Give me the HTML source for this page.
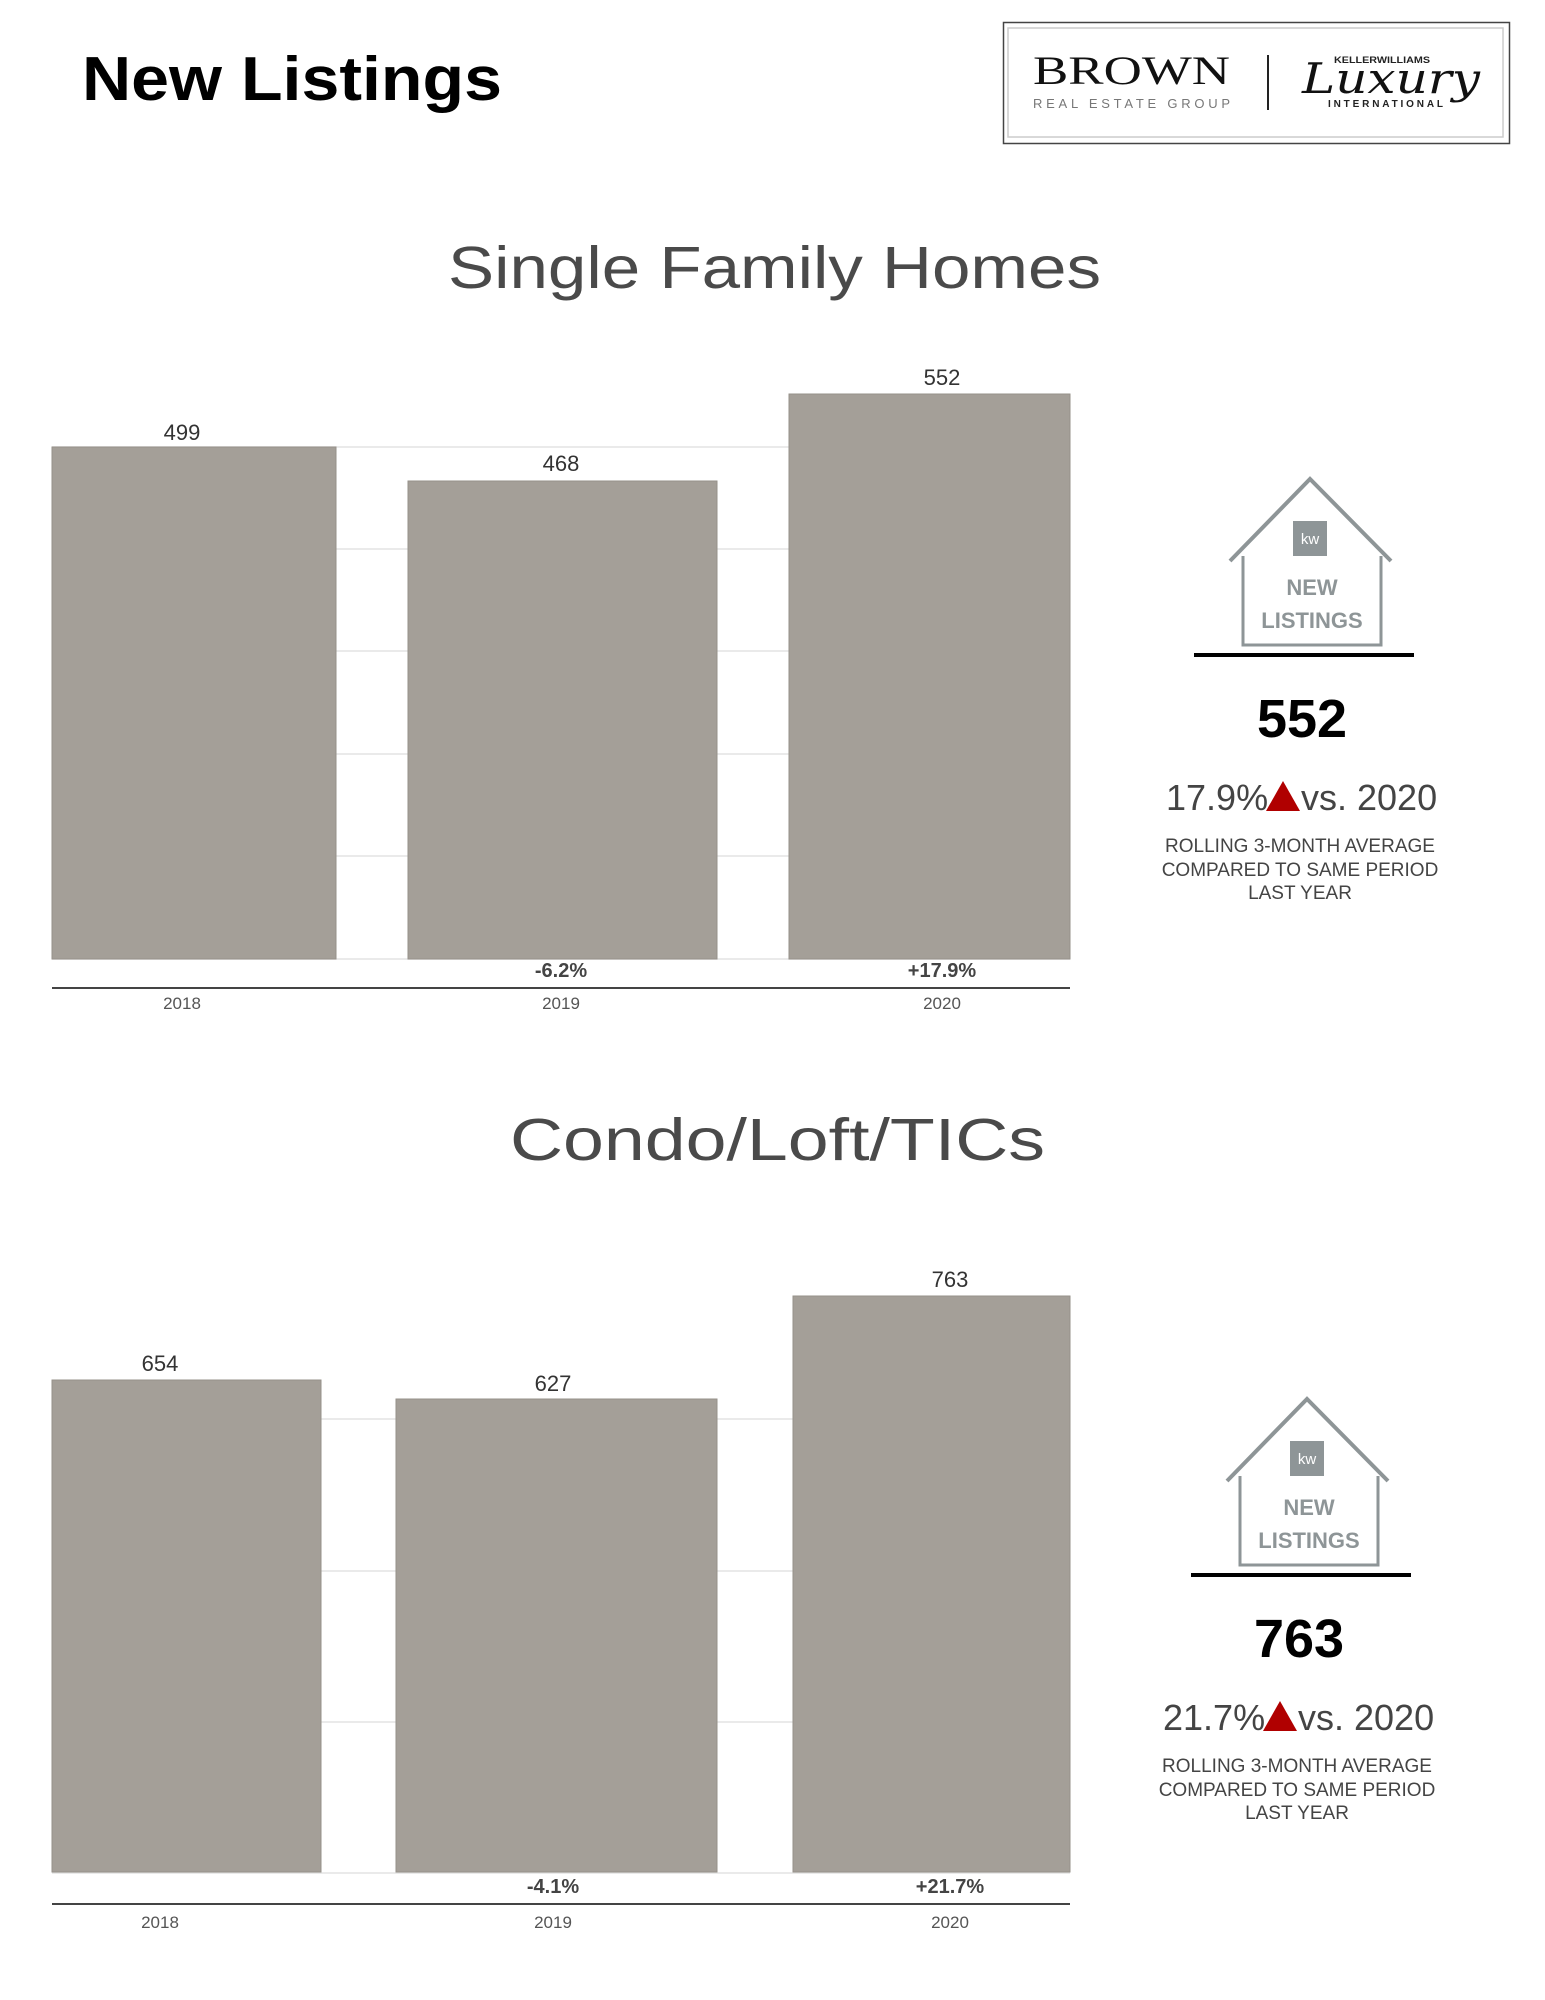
<!DOCTYPE html>
<html><head><meta charset="utf-8"><style>html,body{margin:0;padding:0;background:#fff}svg{display:block}</style></head>
<body>
<svg width="1545" height="2000" viewBox="0 0 1545 2000" xmlns="http://www.w3.org/2000/svg" font-family="Liberation Sans, sans-serif">
<rect width="1545" height="2000" fill="#fff"/>
<text x="82" y="100" font-size="62" font-weight="bold" fill="#000" textLength="420" lengthAdjust="spacingAndGlyphs">New Listings</text>
<!-- logo -->
<rect x="1003.5" y="22.5" width="506" height="121" fill="#fff" stroke="#444" stroke-width="1.5"/>
<rect x="1008" y="28" width="495" height="109" fill="none" stroke="#ccc" stroke-width="1.5"/>
<text x="1033" y="84" font-family="Liberation Serif, serif" font-size="40" fill="#111" textLength="197" lengthAdjust="spacingAndGlyphs">BROWN</text>
<text x="1033" y="108" font-size="13" fill="#777" textLength="197" lengthAdjust="spacing">REAL ESTATE GROUP</text>
<line x1="1268" y1="55" x2="1268" y2="110" stroke="#222" stroke-width="2"/>
<text x="1334" y="63" font-size="9" font-weight="bold" fill="#222" textLength="96" lengthAdjust="spacingAndGlyphs">KELLERWILLIAMS</text>
<text x="1302" y="93" font-family="DejaVu Serif, serif" font-style="italic" font-size="42" fill="#111" textLength="178" lengthAdjust="spacingAndGlyphs">Luxury</text>
<text x="1328" y="107" font-size="10" font-weight="bold" fill="#222" textLength="115" lengthAdjust="spacing">INTERNATIONAL</text>

<!-- Chart 1 -->
<text x="448" y="288" font-size="59" fill="#4a4a4a" textLength="653" lengthAdjust="spacingAndGlyphs">Single Family Homes</text>
<g stroke="#e3e3e3" stroke-width="1.5">
<line x1="52" y1="447" x2="1070" y2="447"/><line x1="52" y1="549" x2="1070" y2="549"/><line x1="52" y1="651" x2="1070" y2="651"/><line x1="52" y1="754" x2="1070" y2="754"/><line x1="52" y1="856" x2="1070" y2="856"/><line x1="52" y1="959" x2="1070" y2="959"/>
</g>
<g fill="#a49f98" stroke="#96918a" stroke-width="1">
<rect x="52" y="447" width="284" height="512"/><rect x="408" y="481" width="309" height="478"/><rect x="789" y="394" width="281" height="565"/>
</g>
<g font-size="22" fill="#333" text-anchor="middle">
<text x="182" y="440">499</text><text x="561" y="471">468</text><text x="942" y="385">552</text>
</g>
<g font-size="20" font-weight="bold" fill="#444" text-anchor="middle"><text x="561" y="977">-6.2%</text><text x="942" y="977">+17.9%</text></g>
<line x1="52" y1="988" x2="1070" y2="988" stroke="#444" stroke-width="2"/>
<g font-size="17" fill="#555" text-anchor="middle"><text x="182" y="1009">2018</text><text x="561" y="1009">2019</text><text x="942" y="1009">2020</text></g>

<!-- icon 1 -->
<g transform="translate(-6,0)">
<polyline points="1236,561 1316,479 1397,561" fill="none" stroke="#8e9597" stroke-width="4"/>
<polyline points="1249,556 1249,645 1387,645 1387,556" fill="none" stroke="#8e9597" stroke-width="3"/>
<rect x="1299" y="521" width="34" height="35" fill="#8e9597"/>
<text x="1316" y="544" font-size="15" fill="#fff" text-anchor="middle">kw</text>
<text x="1318" y="595" font-size="22" font-weight="bold" fill="#8e9597" text-anchor="middle">NEW</text>
<text x="1318" y="628" font-size="22" font-weight="bold" fill="#8e9597" text-anchor="middle">LISTINGS</text>
<rect x="1200" y="653" width="220" height="4" fill="#000"/>
<text x="1308" y="737" font-size="54" font-weight="bold" fill="#000" text-anchor="middle">552</text>
<text x="1172" y="810" font-size="36" fill="#444">17.9%</text>
<polygon points="1272,811 1289,781 1306,811" fill="#b00000"/>
<text x="1307" y="810" font-size="36" fill="#444">vs. 2020</text>
<g font-size="19" fill="#444" text-anchor="middle"><text x="1306" y="852">ROLLING 3-MONTH AVERAGE</text><text x="1306" y="876">COMPARED TO SAME PERIOD</text><text x="1306" y="899">LAST YEAR</text></g>
</g>

<!-- Chart 2 -->
<text x="510" y="1160" font-size="59" fill="#4a4a4a" textLength="535" lengthAdjust="spacingAndGlyphs">Condo/Loft/TICs</text>
<g stroke="#e3e3e3" stroke-width="1.5">
<line x1="52" y1="1419" x2="1070" y2="1419"/><line x1="52" y1="1571" x2="1070" y2="1571"/><line x1="52" y1="1722" x2="1070" y2="1722"/><line x1="52" y1="1873" x2="1070" y2="1873"/>
</g>
<g fill="#a49f98" stroke="#96918a" stroke-width="1">
<rect x="52" y="1380" width="269" height="492"/><rect x="396" y="1399" width="321" height="473"/><rect x="793" y="1296" width="277" height="576"/>
</g>
<g font-size="22" fill="#333" text-anchor="middle">
<text x="160" y="1371">654</text><text x="553" y="1391">627</text><text x="950" y="1287">763</text>
</g>
<g font-size="20" font-weight="bold" fill="#444" text-anchor="middle"><text x="553" y="1893">-4.1%</text><text x="950" y="1893">+21.7%</text></g>
<line x1="52" y1="1904" x2="1070" y2="1904" stroke="#444" stroke-width="2"/>
<g font-size="17" fill="#555" text-anchor="middle"><text x="160" y="1928">2018</text><text x="553" y="1928">2019</text><text x="950" y="1928">2020</text></g>

<!-- icon 2 -->
<g transform="translate(-9,920)">
<polyline points="1236,561 1316,479 1397,561" fill="none" stroke="#8e9597" stroke-width="4"/>
<polyline points="1249,556 1249,645 1387,645 1387,556" fill="none" stroke="#8e9597" stroke-width="3"/>
<rect x="1299" y="521" width="34" height="35" fill="#8e9597"/>
<text x="1316" y="544" font-size="15" fill="#fff" text-anchor="middle">kw</text>
<text x="1318" y="595" font-size="22" font-weight="bold" fill="#8e9597" text-anchor="middle">NEW</text>
<text x="1318" y="628" font-size="22" font-weight="bold" fill="#8e9597" text-anchor="middle">LISTINGS</text>
<rect x="1200" y="653" width="220" height="4" fill="#000"/>
<text x="1308" y="737" font-size="54" font-weight="bold" fill="#000" text-anchor="middle">763</text>
<text x="1172" y="810" font-size="36" fill="#444">21.7%</text>
<polygon points="1272,811 1289,781 1306,811" fill="#b00000"/>
<text x="1307" y="810" font-size="36" fill="#444">vs. 2020</text>
<g font-size="19" fill="#444" text-anchor="middle"><text x="1306" y="852">ROLLING 3-MONTH AVERAGE</text><text x="1306" y="876">COMPARED TO SAME PERIOD</text><text x="1306" y="899">LAST YEAR</text></g>
</g>
</svg>
</body></html>
